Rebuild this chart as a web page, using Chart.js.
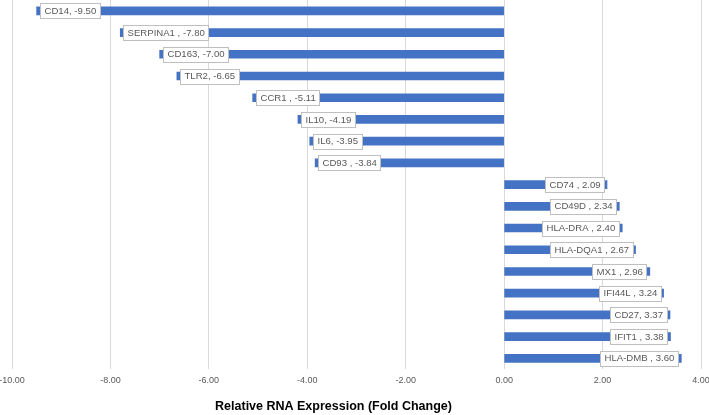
<!DOCTYPE html>
<html>
<head>
<meta charset="utf-8">
<script src="https://cdn.jsdelivr.net/npm/chart.js@4"></script>
<style>
  html, body { margin: 0; padding: 0; background: #fff; }
  #wrap { width: 709px; height: 415px; }
</style>
</head>
<body>
<div id="wrap"><canvas id="c"></canvas></div>
<script>
// genes (label text keeps the original spacing before the comma)
const genes = ['CD14', 'SERPINA1 ', 'CD163', 'TLR2', 'CCR1 ', 'IL10', 'IL6', 'CD93 ',
    'CD74 ', 'CD49D ', 'HLA-DRA ', 'HLA-DQA1 ', 'MX1 ', 'IFI44L ', 'CD27', 'IFIT1 ', 'HLA-DMB '];
const foldChange = [-9.50, -7.80, -7.00, -6.65, -5.11, -4.19, -3.95, -3.84,
    2.09, 2.34, 2.40, 2.67, 2.96, 3.24, 3.37, 3.38, 3.60];
const xTicks = [-10, -8, -6, -4, -2, 0, 2, 4];
const axisTitle = 'Relative RNA Expression (Fold Change)';

const labelFont = '9.6px "Liberation Sans", Arial, sans-serif';

// etiquetas con recuadro al final de cada barra
const boxLabels = {
    id: 'boxLabels',
    afterDatasetsDraw(chart) {
        const ctx = chart.ctx;
        const meta = chart.getDatasetMeta(0);
        ctx.save();
        ctx.font = labelFont;
        ctx.textBaseline = 'middle';
        meta.data.forEach((bar, i) => {
            const v = foldChange[i];
            const text = `${genes[i]}, ${v.toFixed(2)}`;
            const w = ctx.measureText(text).width + 8;
            const h = 15;
            const left = v < 0 ? bar.x + 3 : bar.x - 3 - w;
            const top = Math.round(bar.y - h / 2) + 0.5;
            ctx.fillStyle = '#fff';
            ctx.fillRect(Math.round(left) + 0.5, top, Math.round(w), h);
            ctx.strokeStyle = '#bfbfbf';
            ctx.lineWidth = 1;
            ctx.strokeRect(Math.round(left) + 0.5, top, Math.round(w), h);
            ctx.fillStyle = '#595959';
            ctx.fillText(text, Math.round(left) + 4.5, bar.y + 0.5);
        });
        ctx.restore();
    }
};

// título del eje, algo desplazado a la izquierda como en el original
const axisTitlePlugin = {
    id: 'axisTitlePlugin',
    afterDraw(chart) {
        const ctx = chart.ctx;
        const area = chart.chartArea;
        ctx.save();
        ctx.font = 'bold 12.5px "Liberation Sans", Arial, sans-serif';
        ctx.fillStyle = '#000';
        ctx.textAlign = 'center';
        ctx.textBaseline = 'middle';
        ctx.fillText(axisTitle, area.left + (area.right - area.left) * 0.4666, chart.height - 8);
        ctx.restore();
    }
};

new Chart(document.getElementById('c'), {
    type: 'bar',
    data: {
        labels: genes,
        datasets: [{
            data: foldChange,
            backgroundColor: '#4472C4',
            barThickness: 8
        }]
    },
    options: {
        indexAxis: 'y',
        responsive: true,
        maintainAspectRatio: false,
        animation: false,
        layout: { padding: { top: 0, bottom: 23, left: 0, right: 0 } },
        plugins: {
            legend: { display: false },
            tooltip: { enabled: false }
        },
        scales: {
            x: {
                min: -10,
                max: 4,
                afterBuildTicks: (scale) => {
                    scale.ticks = xTicks.map(v => ({ value: v }));
                },
                afterFit: (scale) => {
                    scale.paddingLeft = 12;
                    scale.paddingRight = 8;
                },
                grid: { color: '#d9d9d9', drawTicks: false },
                border: { display: false },
                ticks: {
                    color: '#595959',
                    font: { size: 9, family: '"Liberation Sans", Arial, sans-serif' },
                    padding: 6,
                    maxRotation: 0,
                    callback: (v) => Number(v).toFixed(2)
                }
            },
            y: {
                display: false
            }
        }
    },
    plugins: [boxLabels, axisTitlePlugin]
});
</script>
</body>
</html>
